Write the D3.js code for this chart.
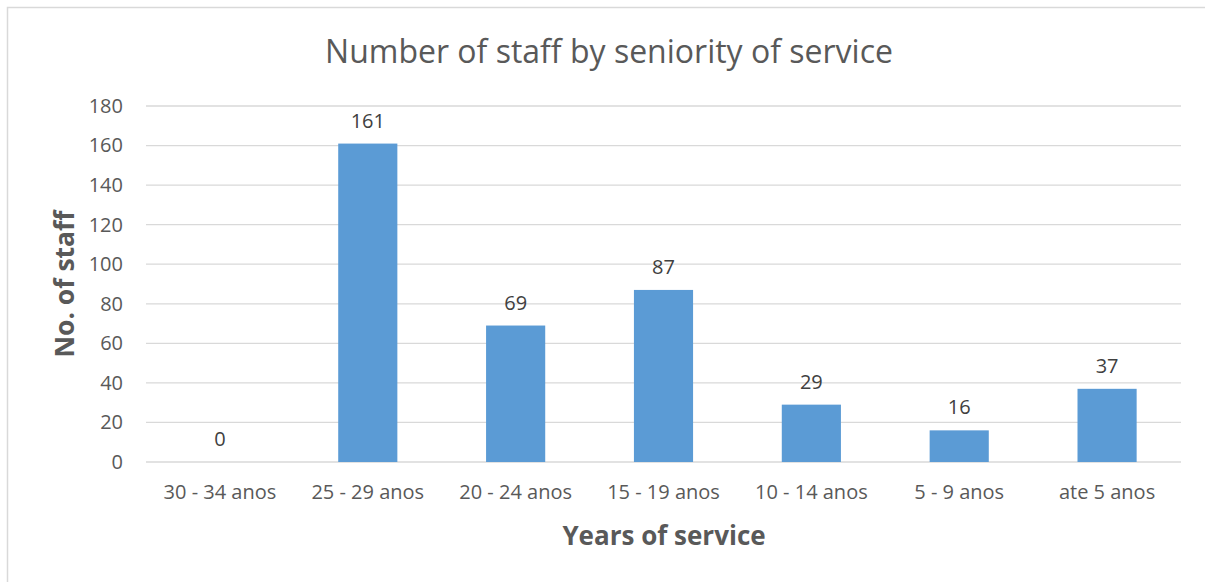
<!DOCTYPE html>
<html>
<head>
<meta charset="utf-8">
<script src="https://cdn.jsdelivr.net/npm/d3@7"></script>
<style>
  body { margin: 0; background: #fff; }
  text { font-family: "Open Sans", sans-serif; }
</style>
</head>
<body>
<div id="chart"></div>
<script>
var width = 1205;
var height = 582;

var categories = ['30 - 34 anos', '25 - 29 anos', '20 - 24 anos', '15 - 19 anos', '10 - 14 anos', '5 - 9 anos', 'ate 5 anos'];
var staff = [0, 161, 69, 87, 29, 16, 37];
var yTicks = [0, 20, 40, 60, 80, 100, 120, 140, 160, 180];

var plot = { left: 146, right: 1181, top: 106, bottom: 462 };

var svg = d3.select('#chart').append('svg')
    .attr('width', width)
    .attr('height', height);

// outer chart frame
svg.append('rect')
    .attr('x', 7.5)
    .attr('y', 7.5)
    .attr('width', width + 20)
    .attr('height', height + 20)
    .attr('fill', 'none')
    .attr('stroke', '#d9d9d9')
    .attr('stroke-width', 1.5);

var xScale = d3.scaleBand()
    .domain(categories)
    .range([plot.left, plot.right])
    .paddingInner(0.6)
    .paddingOuter(0.3);

var yScale = d3.scaleLinear()
    .domain([0, 180])
    .range([plot.bottom, plot.top]);

// gridlines
svg.append('g')
    .selectAll('line')
    .data(yTicks)
    .enter()
    .append('line')
    .attr('x1', plot.left)
    .attr('x2', plot.right)
    .attr('y1', d => yScale(d))
    .attr('y2', d => yScale(d))
    .attr('stroke', '#d9d9d9')
    .attr('stroke-width', 1.3);

var yAxis = d3.axisLeft(yScale).tickValues(yTicks).tickSize(0).tickPadding(23);
var yAxis_g = svg.append('g')
    .attr('transform', `translate(${plot.left}, 0)`)
    .call(yAxis);
yAxis_g.select('.domain').remove();
yAxis_g.selectAll('text')
    .style('font-size', '20px')
    .attr('fill', '#595959')
    .attr('font-family', '"Open Sans", sans-serif');

var xAxis = d3.axisBottom(xScale).tickSize(0).tickPadding(23);
var xAxis_g = svg.append('g')
    .attr('transform', `translate(0, ${plot.bottom})`)
    .call(xAxis);
xAxis_g.select('.domain').remove();
xAxis_g.selectAll('text')
    .style('font-size', '20px')
    .attr('fill', '#595959')
    .attr('font-family', '"Open Sans", sans-serif');

// bars
svg.append('g')
    .selectAll('rect')
    .data(staff)
    .enter()
    .append('rect')
    .attr('x', (d, i) => xScale(categories[i]))
    .attr('y', d => yScale(d))
    .attr('width', xScale.bandwidth())
    .attr('height', d => plot.bottom - yScale(d))
    .attr('fill', '#5b9bd5');

// value labels
svg.append('g')
    .selectAll('text')
    .data(staff)
    .enter()
    .append('text')
    .attr('x', (d, i) => xScale(categories[i]) + xScale.bandwidth() / 2)
    .attr('y', d => yScale(d) - 16)
    .attr('text-anchor', 'middle')
    .style('font-size', '20px')
    .attr('fill', '#404040')
    .text(d => d);

// title
svg.append('text')
    .attr('x', 609)
    .attr('y', 63)
    .attr('text-anchor', 'middle')
    .style('font-size', '32px')
    .attr('fill', '#595959')
    .text('Number of staff by seniority of service');

// axis titles
svg.append('text')
    .attr('x', 664)
    .attr('y', 545)
    .attr('text-anchor', 'middle')
    .style('font-size', '26px')
    .style('font-weight', 'bold')
    .attr('fill', '#595959')
    .text('Years of service');

svg.append('text')
    .attr('transform', `translate(74, 284) rotate(-90)`)
    .attr('text-anchor', 'middle')
    .style('font-size', '26.5px')
    .style('font-weight', 'bold')
    .attr('fill', '#595959')
    .text('No. of staff');
</script>
</body>
</html>
